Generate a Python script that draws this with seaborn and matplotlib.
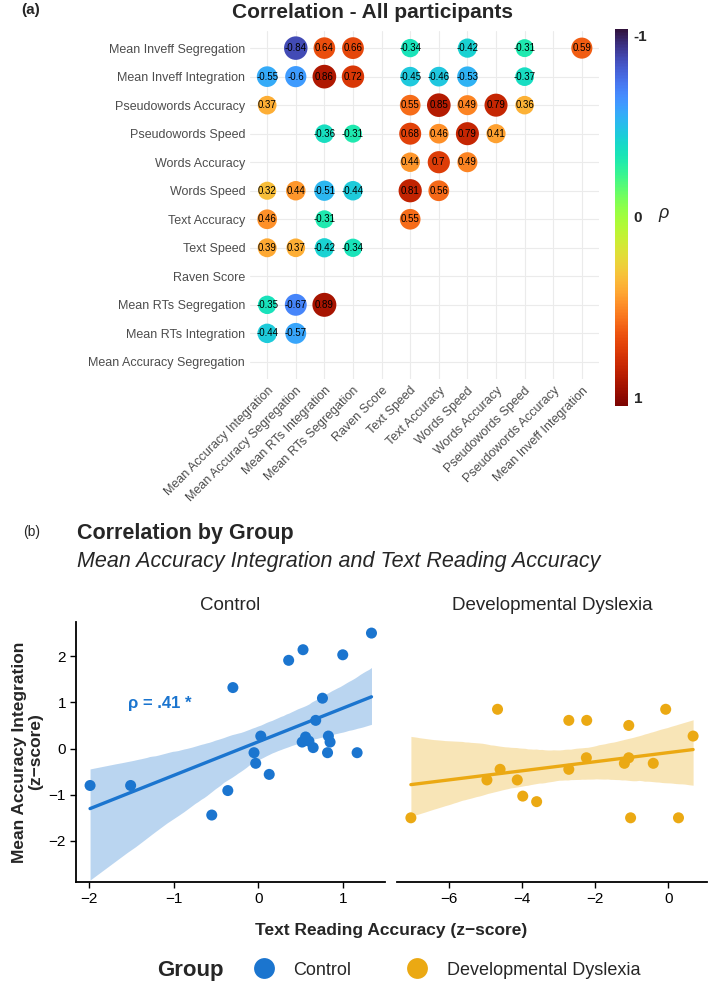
import numpy as np
import pandas as pd
import seaborn as sns
import matplotlib as mpl
import matplotlib.pyplot as plt
from matplotlib.lines import Line2D

sns.set_theme(style="white")
plt.rcParams['font.family'] = ['Liberation Sans', 'DejaVu Sans']

# ---- (a) correlation matrix, all participants
row_labels = ["Mean Inveff Segregation", "Mean Inveff Integration", "Pseudowords Accuracy",
              "Pseudowords Speed", "Words Accuracy", "Words Speed", "Text Accuracy",
              "Text Speed", "Raven Score", "Mean RTs Segregation", "Mean RTs Integration",
              "Mean Accuracy Segregation"]
col_labels = ["Mean Accuracy Integration", "Mean Accuracy Segregation", "Mean RTs Integration",
              "Mean RTs Segregation", "Raven Score", "Text Speed", "Text Accuracy",
              "Words Speed", "Words Accuracy", "Pseudowords Speed", "Pseudowords Accuracy",
              "Mean Inveff Integration"]
n = np.nan
corr_rows = [
    [n, -0.84, 0.64, 0.66, n, -0.34, n, -0.42, n, -0.31, n, 0.59],
    [-0.55, -0.6, 0.86, 0.72, n, -0.45, -0.46, -0.53, n, -0.37, n, n],
    [0.37, n, n, n, n, 0.55, 0.85, 0.49, 0.79, 0.36, n, n],
    [n, n, -0.36, -0.31, n, 0.68, 0.46, 0.79, 0.41, n, n, n],
    [n, n, n, n, n, 0.44, 0.7, 0.49, n, n, n, n],
    [0.32, 0.44, -0.51, -0.44, n, 0.81, 0.56, n, n, n, n, n],
    [0.46, n, -0.31, n, n, 0.55, n, n, n, n, n, n],
    [0.39, 0.37, -0.42, -0.34, n, n, n, n, n, n, n, n],
    [n, n, n, n, n, n, n, n, n, n, n, n],
    [-0.35, -0.67, 0.89, n, n, n, n, n, n, n, n, n],
    [-0.44, -0.57, n, n, n, n, n, n, n, n, n, n],
    [n, n, n, n, n, n, n, n, n, n, n, n],
]

# ---- (b) scatter by group
group_names = ["Control", "Developmental Dyslexia"]
ctrl_x = [-1.99, -1.51, -0.55, -0.36, -0.30, -0.05, -0.03, 0.03, 0.13, 0.36, 0.53, 0.52,
          0.56, 0.60, 0.65, 0.68, 0.76, 0.83, 0.85, 0.82, 1.00, 1.17, 1.34]
ctrl_y = [-0.80, -0.80, -1.44, -0.91, 1.32, -0.09, -0.32, 0.27, -0.56, 1.91, 2.14, 0.14,
          0.25, 0.16, 0.02, 0.61, 1.09, 0.27, 0.14, -0.09, 2.03, -0.09, 2.50]
dys_x = [-7.04, -4.96, -4.67, -4.60, -4.13, -3.98, -3.60, -2.72, -2.72, -2.23, -2.24, -1.20,
         -1.08, -1.08, -1.03, -0.41, -0.07, 0.28, 0.68]
dys_y = [-1.50, -0.68, 0.85, -0.45, -0.68, -1.03, -1.15, 0.61, -0.45, 0.61, -0.20, -0.32,
         0.50, -0.20, -1.50, -0.32, 0.85, -1.50, 0.27]
ctrl_label = "ρ = .41 *"

blue = "#1B75CF"
orange = "#EBA913"

W, H = 709, 996
fig = plt.figure(figsize=(W / 100, H / 100), dpi=100)

def box(x0, y0, x1, y1):
    # pixel box (top-left origin) -> figure fraction
    return [x0 / W, 1 - y1 / H, (x1 - x0) / W, (y1 - y0) / H]

# ---------------- panel (a)
df = pd.DataFrame(corr_rows, columns=col_labels)
df["row"] = row_labels
cells = df.melt(id_vars="row", var_name="col", value_name="r").dropna()
cells["xi"] = cells["col"].map({c: i for i, c in enumerate(col_labels)})
cells["yi"] = cells["row"].map({c: i for i, c in enumerate(row_labels)})
cells["absr"] = cells["r"].abs()

ax = fig.add_axes(box(250, 31, 599, 379))
sns.scatterplot(data=cells, x="xi", y="yi", hue="r", palette="turbo", hue_norm=(-1, 1),
                size="absr", sizes=(165, 300), size_norm=(0.3, 0.9), legend=False,
                edgecolor="none", linewidth=0, ax=ax, zorder=3)
for _, c in cells.iterrows():
    ax.text(c["xi"], c["yi"], f"{c['r']:g}", ha="center", va="center", fontsize=7,
            color="black", zorder=4)
ax.set_xlim(-0.6, 11.6)
ax.set_ylim(11.6, -0.6)
ax.set_xticks(range(len(col_labels)))
ax.set_yticks(range(len(row_labels)))
ax.set_xticklabels(col_labels, rotation=45, ha="right", va="top", rotation_mode="anchor")
ax.set_yticklabels(row_labels)
ax.tick_params(length=0, labelsize=9, labelcolor="#4D4D4D")
ax.tick_params(axis="x", pad=4)
ax.tick_params(axis="y", pad=3.5)
ax.grid(True, color="#EBEBEB", lw=0.8)
ax.set_axisbelow(True)
ax.set_xlabel("")
ax.set_ylabel("")
for s in ax.spines.values():
    s.set_visible(False)

# colour bar: -1 on top, slight overhang past the end labels
cax = fig.add_axes(box(615, 29, 628, 406))
sm = mpl.cm.ScalarMappable(norm=mpl.colors.Normalize(-1.035, 1.045), cmap="turbo")
cb = fig.colorbar(sm, cax=cax)
cax.invert_yaxis()
cb.set_ticks([-1, 0, 1])
cb.set_ticklabels(["-1", "0", "1"])
cb.outline.set_visible(False)
cax.tick_params(length=0, labelsize=11, pad=4)
for t in cax.get_yticklabels():
    t.set_fontweight("bold")
fig.text(658 / W, 1 - 214 / H, "ρ", style="italic", fontsize=13, va="center")

fig.text(21 / W, 1 - 10 / H, "(a)", fontsize=11, fontweight="bold", va="center")
fig.text(372 / W, 1 - 13 / H, "Correlation - All participants", fontsize=15,
         fontweight="bold", ha="center", va="center")

# ---------------- panel (b)
axl = fig.add_axes(box(75.7, 622, 385, 882))
axr = fig.add_axes(box(397, 622, 707, 882), sharey=axl)

for a, xs, ys, col in [(axl, ctrl_x, ctrl_y, blue), (axr, dys_x, dys_y, orange)]:
    sns.regplot(x=xs, y=ys, ax=a, color=col, ci=95, seed=3,
                scatter_kws=dict(s=63, alpha=1, edgecolors="none", zorder=3),
                line_kws=dict(lw=2.4, zorder=4))
    for c in a.collections:
        if isinstance(c, mpl.collections.PolyCollection):
            c.set_alpha(0.3)
            c.set_linewidth(0)

axl.set_xlim(-2.16, 1.50)
axl.set_ylim(-2.89, 2.74)
axr.set_xlim(-7.42, 1.06)
axl.set_xticks([-2, -1, 0, 1])
axl.set_yticks([-2, -1, 0, 1, 2])
axr.set_xticks([-6, -4, -2, 0])

for a in (axl, axr):
    a.spines["top"].set_visible(False)
    a.spines["right"].set_visible(False)
    for s in ("left", "bottom"):
        a.spines[s].set_color("black")
        a.spines[s].set_linewidth(1.3)
    a.tick_params(direction="out", length=4, width=1, color="black", labelsize=11,
                  labelcolor="black", bottom=True, left=True, pad=3)
axr.spines["left"].set_visible(False)
axr.tick_params(axis="y", left=False, labelleft=False)

axl.text(-1.54, 0.98, ctrl_label, color=blue, fontweight="bold", fontsize=12,
         ha="left", va="center")
axl.text(0.5, 1 + 17 / 260, group_names[0], transform=axl.transAxes, ha="center",
         va="center", fontsize=13.5)
axr.text(0.5, 1 + 17 / 260, group_names[1], transform=axr.transAxes, ha="center",
         va="center", fontsize=13.5)

fig.text(23 / W, 1 - 532 / H, "(b)", fontsize=10, va="center")
fig.text(77 / W, 1 - 533 / H, "Correlation by Group", fontsize=15.5, fontweight="bold",
         va="center")
fig.text(77 / W, 1 - 561 / H, "Mean Accuracy Integration and Text Reading Accuracy",
         fontsize=15.5, style="italic", va="center")
fig.text(391 / W, 1 - 930 / H, "Text Reading Accuracy (z\u2212score)", fontsize=12.5,
         fontweight="bold", ha="center", va="center")
fig.text(28 / W, 1 - 752 / H, "Mean Accuracy Integration\n(z\u2212score)", fontsize=12.5,
         fontweight="bold", ha="center", va="center", rotation=90, linespacing=1.1)

# legend
ly = 1 - 970 / H
fig.text(157 / W, ly, "Group", fontsize=16, fontweight="bold", va="center")
handles = [Line2D([], [], marker="o", ls="", markersize=15, color=c, markeredgewidth=0)
           for c in (blue, orange)]
fig.legend(handles, group_names, ncol=2, loc="center left", bbox_to_anchor=(250 / W, ly),
           frameon=False, fontsize=13, borderpad=0, borderaxespad=0, handlelength=1.5,
           handletextpad=0.9, columnspacing=2.9)

fig.savefig("out.png", dpi=100)
